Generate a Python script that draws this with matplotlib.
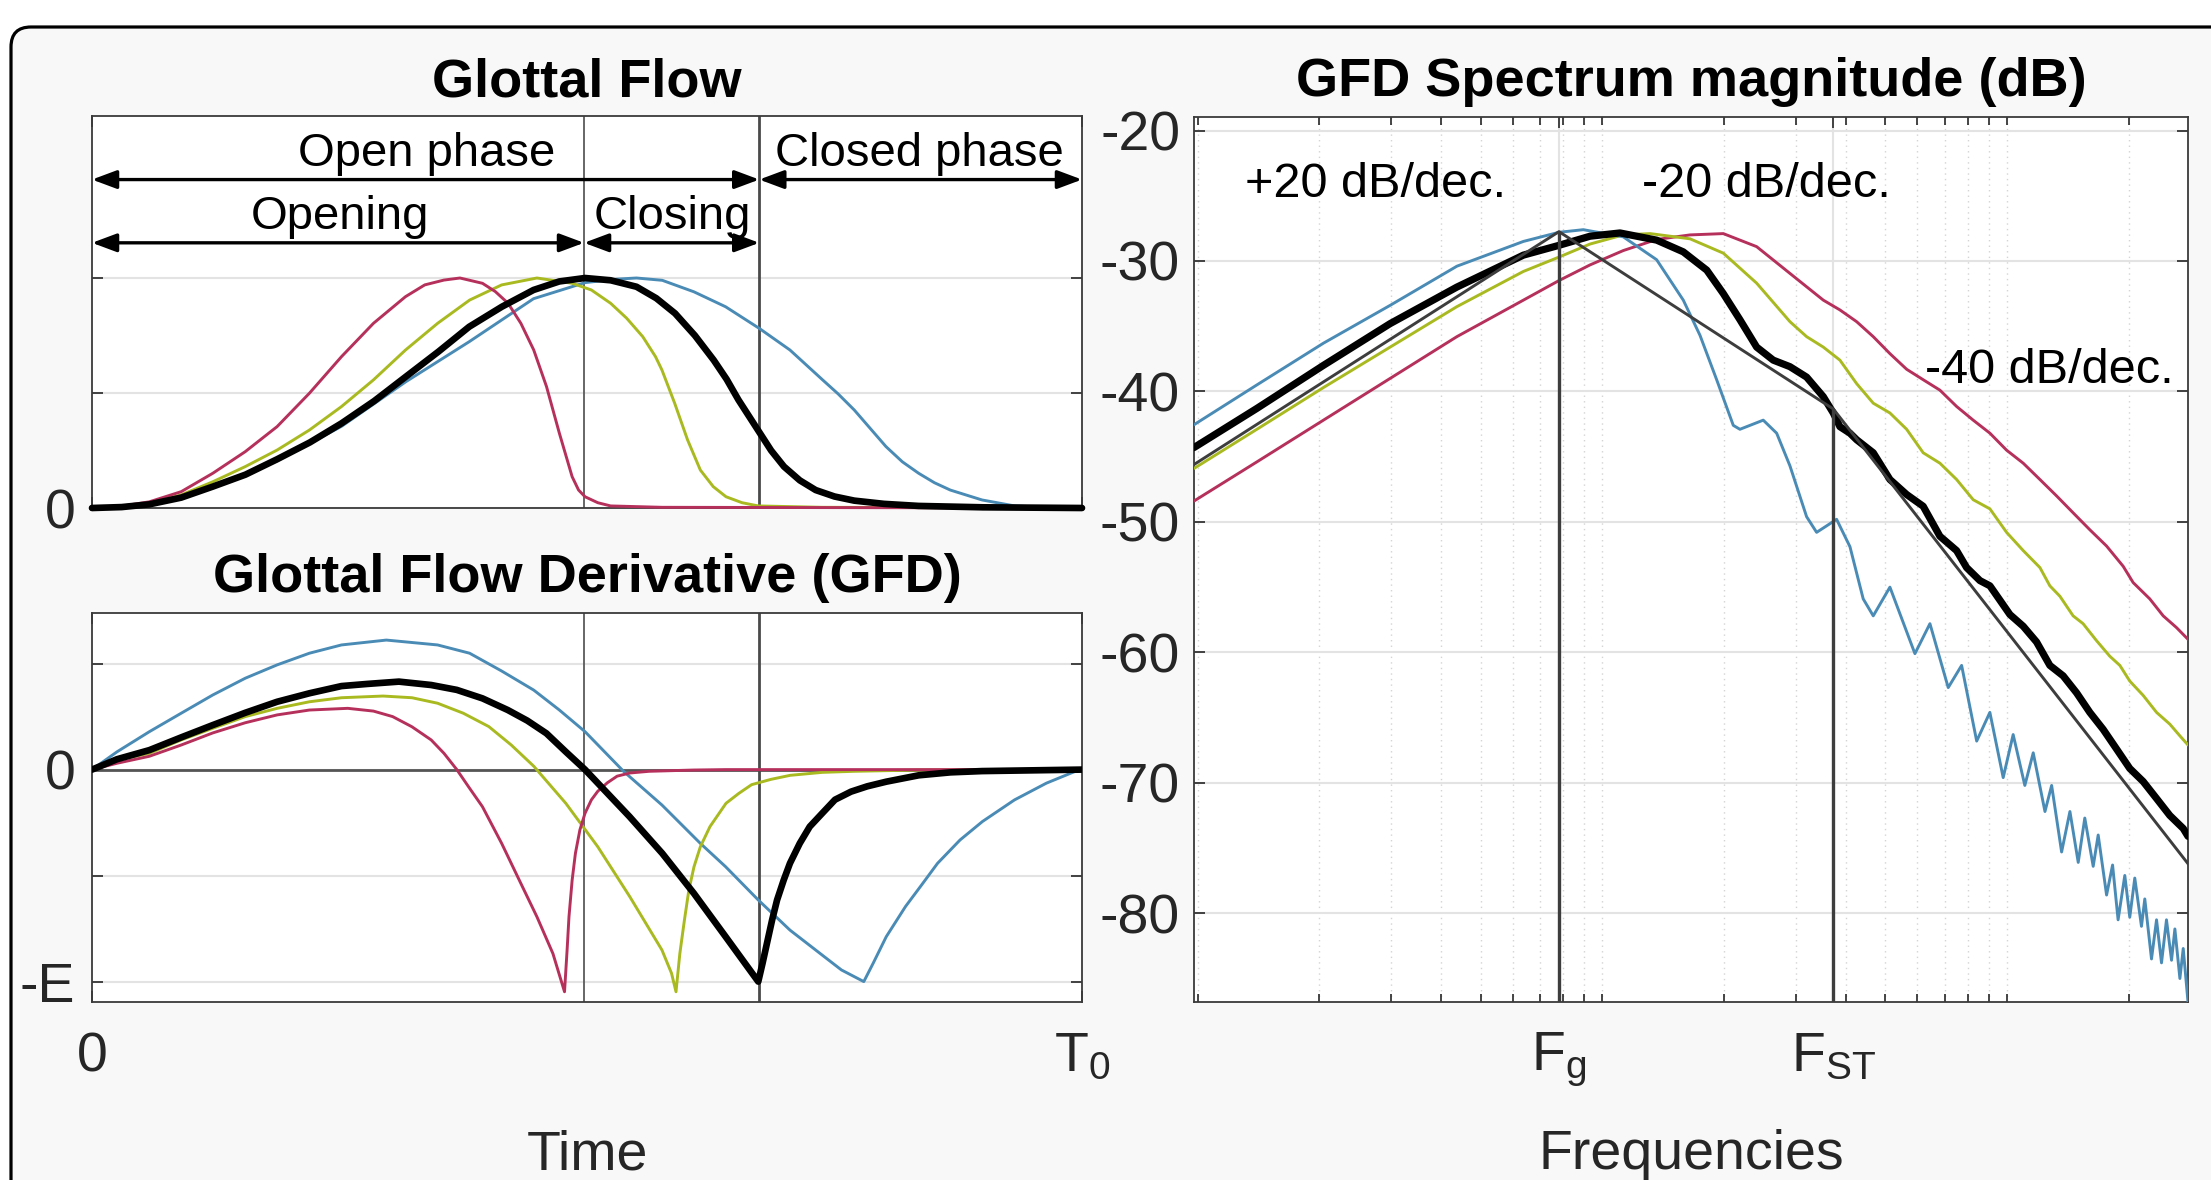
import matplotlib
matplotlib.use('Agg')
import matplotlib.pyplot as plt
import numpy as np
from matplotlib.patches import FancyBboxPatch
from matplotlib.transforms import IdentityTransform
from matplotlib.ticker import FixedLocator, FixedFormatter, LogLocator, NullFormatter

plt.rcParams['font.family'] = ['Liberation Sans', 'DejaVu Sans']
plt.rcParams['mathtext.fontset'] = 'custom'
plt.rcParams['mathtext.rm'] = 'Liberation Sans'
plt.rcParams['mathtext.it'] = 'Liberation Sans:italic'
plt.rcParams['mathtext.default'] = 'regular'

# ---------------- data ----------------
tp = 0.497   # instant of maximum flow (black)
te = 0.674   # glottal closure instant (black)

# Glottal flow (normalised), time in units of T0
t_flow_black = [0, 0.03, 0.058, 0.09, 0.122, 0.155, 0.187, 0.22, 0.252, 0.285, 0.317, 0.35, 0.381, 0.414,
                0.446, 0.472, 0.498, 0.524, 0.550, 0.570, 0.589, 0.609, 0.628, 0.641, 0.653, 0.674, 0.686,
                0.699, 0.715, 0.731, 0.750, 0.770, 0.800, 0.835, 0.900, 1.0]
flow_black = [0, 0.004, 0.016, 0.045, 0.093, 0.145, 0.212, 0.285, 0.368, 0.465, 0.571, 0.680, 0.788, 0.875,
              0.948, 0.985, 1.0, 0.990, 0.962, 0.912, 0.846, 0.750, 0.643, 0.560, 0.470, 0.330, 0.250,
              0.180, 0.120, 0.078, 0.050, 0.032, 0.018, 0.009, 0.003, 0.0]
t_flow_blue = [0, 0.058, 0.122, 0.187, 0.252, 0.317, 0.381, 0.446, 0.498, 0.530, 0.550, 0.576, 0.608, 0.640,
               0.674, 0.705, 0.738, 0.7537, 0.770, 0.7861, 0.802, 0.8185, 0.835, 0.8509, 0.867, 0.899,
               0.932, 0.970, 1.0]
flow_blue = [0, 0.014, 0.088, 0.205, 0.355, 0.549, 0.723, 0.910, 0.980, 0.995, 1.0, 0.990, 0.940, 0.875,
             0.781, 0.687, 0.557, 0.496, 0.426, 0.346, 0.267, 0.201, 0.151, 0.110, 0.078, 0.035,
             0.009, 0.002, 0.0]
t_flow_olive = [0, 0.0253, 0.058, 0.0901, 0.122, 0.1548, 0.187, 0.2196, 0.252, 0.2843, 0.3167, 0.3491, 0.3814,
                0.4138, 0.4494, 0.485, 0.5044, 0.5239, 0.5401, 0.5563, 0.5692, 0.5757, 0.5886, 0.6016,
                0.6145, 0.6275, 0.6404, 0.6566, 0.673, 0.7376, 1.0]
flow_olive = [0, 0.005, 0.020, 0.057, 0.114, 0.180, 0.252, 0.339, 0.441, 0.557, 0.687, 0.803, 0.904,
              0.970, 1.0, 0.977, 0.948, 0.890, 0.825, 0.745, 0.658, 0.600, 0.455, 0.296,
              0.165, 0.093, 0.049, 0.023, 0.009, 0.003, 0.0]
t_flow_red = [0, 0.0253, 0.058, 0.0901, 0.122, 0.1548, 0.187, 0.2196, 0.252, 0.2843, 0.3167, 0.3361, 0.3555,
              0.3717, 0.3944, 0.4074, 0.4203, 0.4332, 0.4462, 0.4591, 0.4721, 0.485, 0.4915, 0.498,
              0.5109, 0.5239, 0.5757, 1.0]
flow_red = [0, 0.005, 0.027, 0.071, 0.151, 0.245, 0.354, 0.499, 0.658, 0.803, 0.919, 0.970, 0.991,
            1.0, 0.977, 0.941, 0.890, 0.803, 0.687, 0.528, 0.325, 0.136, 0.078, 0.049,
            0.023, 0.009, 0.003, 0.0]

# Glottal flow derivative (normalised to E)
t_gfd_black = [0, 0.0253, 0.058, 0.0901, 0.122, 0.1548, 0.187, 0.2196, 0.252, 0.2778, 0.310, 0.3426, 0.3685,
               0.3944, 0.420, 0.4397, 0.459, 0.4786, 0.498, 0.543, 0.576, 0.608, 0.640, 0.673, 0.6773,
               0.6825, 0.687, 0.692, 0.6987, 0.705, 0.7149, 0.725, 0.7376, 0.7505, 0.7667, 0.783, 0.8023,
               0.835, 0.8671, 0.899, 1.0]
gfd_black = [0, 0.049, 0.092, 0.152, 0.210, 0.268, 0.320, 0.360, 0.394, 0.404, 0.415, 0.399, 0.376,
             0.336, 0.281, 0.231, 0.171, 0.084, 0.0, -0.222, -0.395, -0.584, -0.788, -1.0, -0.914,
             -0.804, -0.709, -0.615, -0.521, -0.442, -0.348, -0.269, -0.206, -0.142, -0.104, -0.079, -0.057,
             -0.027, -0.013, -0.007, 0.0]
t_gfd_blue = [0, 0.0253, 0.058, 0.0901, 0.122, 0.1548, 0.187, 0.2196, 0.252, 0.2973, 0.3491, 0.3814, 0.4138,
              0.4462, 0.4721, 0.498, 0.5369, 0.5757, 0.6145, 0.640, 0.673, 0.705, 0.7376, 0.757, 0.7796,
              0.789, 0.8023, 0.8217, 0.838, 0.8541, 0.8768, 0.8994, 0.9318, 0.964, 0.9933, 1.0]
gfd_blue = [0, 0.084, 0.179, 0.266, 0.352, 0.431, 0.494, 0.549, 0.588, 0.611, 0.588, 0.549, 0.465,
            0.375, 0.281, 0.179, -0.008, -0.167, -0.348, -0.458, -0.615, -0.757, -0.875, -0.945, -1.0,
            -0.914, -0.788, -0.646, -0.544, -0.442, -0.332, -0.245, -0.143, -0.064, -0.008, 0.0]
t_gfd_olive = [0, 0.0253, 0.058, 0.0901, 0.122, 0.1548, 0.187, 0.2196, 0.252, 0.294, 0.3232, 0.3491, 0.375,
               0.4008, 0.4235, 0.4462, 0.4786, 0.5109, 0.5433, 0.5757, 0.5854, 0.5899, 0.5938, 0.5984,
               0.6029, 0.6081, 0.6145, 0.6242, 0.6404, 0.6534, 0.6663, 0.6858, 0.7052, 0.7376, 0.7699,
               0.8347, 1.0]
gfd_olive = [0, 0.045, 0.077, 0.140, 0.195, 0.250, 0.289, 0.320, 0.339, 0.347, 0.339, 0.313, 0.266,
             0.203, 0.116, 0.016, -0.159, -0.364, -0.600, -0.851, -0.961, -1.048, -0.867, -0.710,
             -0.568, -0.458, -0.364, -0.269, -0.159, -0.112, -0.071, -0.046, -0.027, -0.013, -0.008,
             -0.002, 0.0]
t_gfd_red = [0, 0.0253, 0.058, 0.0901, 0.122, 0.1548, 0.187, 0.2196, 0.2584, 0.2843, 0.3037, 0.3232, 0.3426,
             0.3555, 0.3685, 0.3814, 0.3944, 0.4138, 0.4332, 0.4494, 0.4656, 0.4773, 0.4799, 0.4818, 0.485,
             0.4883, 0.4928, 0.498, 0.5044, 0.5109, 0.5206, 0.5304, 0.5433, 0.5627, 0.6081, 0.6404, 1.0]
gfd_red = [0, 0.030, 0.063, 0.116, 0.173, 0.221, 0.258, 0.281, 0.289, 0.276, 0.250, 0.202, 0.140,
           0.077, 0.0, -0.088, -0.175, -0.348, -0.537, -0.694, -0.868, -1.048, -0.851, -0.694, -0.521,
           -0.395, -0.285, -0.206, -0.143, -0.102, -0.062, -0.031, -0.016, -0.008, -0.002, 0.0, 0.0]

# GFD spectrum (frequency relative to F0, magnitude in dB)
f_spec_blue = [0.98, 1.401, 2.046, 2.99, 4.37, 6.38, 7.81, 8.97, 11.26, 13.61, 15.84, 17.42, 19.15, 21.05,
               21.86, 24.96, 26.94, 29.05, 31.94, 33.81, 35.80, 37.88, 40.87, 44.07, 46.66, 51.30, 59.14,
               64.41, 71.47, 77.13, 84.03, 90.57, 97.7, 103.4, 110.5, 115.9, 123.9, 128.7, 136.2, 142.8,
               149.7, 155.4, 163.0, 167.7, 175.9, 182.0, 187.8, 195.1, 200.7, 206.5, 214.5, 218.6, 227.1,
               233.7, 240.4, 247.3, 254.5, 259.4, 266.9, 272.0, 279.5]
db_spec_blue = [-42.55, -39.5, -36.3, -33.4, -30.4, -28.5, -27.8, -27.6, -28.15, -29.9, -33.0, -35.7, -39.1,
                -42.6, -42.9, -42.2, -43.2, -45.7, -49.6, -50.8, -50.3, -49.8, -51.9, -55.9, -57.2, -55.0,
                -60.1, -57.8, -62.7, -61.0, -66.8, -64.6, -69.6, -66.3, -70.2, -67.7, -72.2, -70.2, -75.3,
                -72.2, -76.1, -72.7, -76.4, -74.0, -78.6, -76.3, -80.5, -77.1, -80.3, -77.3, -81.0, -78.9,
                -83.5, -80.5, -83.8, -80.5, -83.6, -81.2, -85.0, -82.7, -86.8]
f_spec_black = [0.98, 1.401, 2.046, 2.99, 4.37, 6.38, 7.81, 9.32, 11.05, 13.61, 15.84, 17.42, 18.10, 19.89,
                21.86, 24.04, 26.42, 29.05, 31.94, 35.12, 37.17, 38.60, 40.87, 42.45, 46.66, 51.30, 56.42,
                61.98, 68.17, 74.96, 79.35, 85.6, 90.6, 95.9, 101.5, 109.5, 118.1, 127.4, 137.4, 148.3,
                159.9, 172.5, 186.1, 200.7, 216.6, 233.7, 252.0, 272.0, 279.5]
db_spec_black = [-44.3, -41.3, -38.0, -34.8, -32.0, -29.55, -28.8, -28.1, -27.85, -28.4, -29.3, -30.3, -30.7,
                 -32.5, -34.5, -36.6, -37.6, -38.1, -38.9, -40.4, -41.65, -42.7, -43.2, -43.7, -44.7, -46.75,
                 -47.9, -48.8, -51.1, -52.2, -53.5, -54.5, -54.9, -56.0, -57.1, -58.0, -59.2, -61.0, -61.8,
                 -63.1, -64.6, -65.9, -67.4, -68.9, -69.9, -71.2, -72.5, -73.5, -74.1]
f_spec_olive = [0.98, 1.401, 2.046, 2.99, 4.37, 6.38, 7.81, 9.32, 11.26, 13.11, 16.46, 19.89, 24.04, 29.05,
                31.94, 35.12, 38.60, 42.45, 46.66, 51.30, 56.42, 61.98, 68.17, 74.96, 82.38, 90.6, 99.6,
                109.5, 120.4, 127.4, 134.9, 145.4, 153.9, 166.1, 179.2, 189.7, 200.7, 216.6, 233.7, 252.0,
                266.9, 279.5]
db_spec_olive = [-45.9, -42.9, -39.7, -36.6, -33.5, -30.8, -29.7, -28.7, -28.0, -27.9, -28.3, -29.4, -31.7,
                 -34.65, -35.8, -36.6, -37.6, -39.4, -40.9, -41.65, -42.9, -44.7, -45.5, -46.75, -48.3, -49.0,
                 -50.8, -52.2, -53.5, -54.9, -55.7, -57.2, -57.8, -59.1, -60.3, -61.0, -62.2, -63.3, -64.6,
                 -65.5, -66.4, -67.1]
f_spec_red = [0.98, 1.401, 2.046, 2.99, 4.37, 6.38, 7.81, 9.32, 11.26, 13.61, 16.46, 19.89, 24.04, 29.05,
              35.12, 38.60, 42.45, 46.66, 51.30, 56.42, 61.98, 68.17, 74.96, 82.38, 90.6, 99.6, 109.5, 120.4,
              132.3, 145.4, 159.9, 175.9, 193.3, 204.6, 224.9, 242.7, 261.8, 279.5]
db_spec_red = [-48.4, -45.4, -42.2, -39.0, -35.8, -33.0, -31.5, -30.3, -29.2, -28.35, -28.0, -27.9, -28.9,
               -30.95, -33.0, -33.75, -34.65, -35.8, -37.1, -38.3, -39.1, -39.9, -41.15, -42.2, -43.2, -44.5,
               -45.5, -46.75, -48.0, -49.3, -50.6, -51.85, -53.4, -54.65, -55.9, -57.2, -58.1, -59.0]

# Asymptotic (stylised) spectrum: +20 / -20 / -40 dB per decade
asym_f = [0.98, 7.81, 37.2, 279.5]
asym_db = [-45.6, -27.75, -41.35, -76.2]
fg, fst = asym_f[1], asym_f[2]

y_ticks_spec = [-80, -70, -60, -50, -40, -30, -20]

# ---------------- style ----------------
C_BLUE = '#4a8bb6'
C_OLIVE = '#a9b920'
C_RED = '#b6305c'
C_ASYM = '#3d3d3d'
C_AXIS = '#3a3a3a'
C_TICK = '#262626'
C_GRID = '#e3e3e3'

fig = plt.figure(figsize=(22.11, 11.8), dpi=100)
fig.patch.set_facecolor('white')

frame = FancyBboxPatch((11, -80), 2400, 1180 - 27 + 80, boxstyle='round,pad=0,rounding_size=20',
                       transform=IdentityTransform(), facecolor='#f8f8f8', edgecolor='black',
                       linewidth=2.3, zorder=-10)
fig.add_artist(frame)

ax1 = fig.add_axes([0.04161, 0.56949, 0.44776, 0.33186])
ax2 = fig.add_axes([0.04161, 0.15076, 0.44776, 0.32941])
ax3 = fig.add_axes([0.54003, 0.15085, 0.44957, 0.74958])

for ax in (ax1, ax2, ax3):
    ax.set_facecolor('white')
    for s in ax.spines.values():
        s.set_color(C_AXIS)
        s.set_linewidth(1.3)
    ax.tick_params(which='both', direction='in', colors=C_TICK, labelsize=40,
                   left=True, right=True, top=True, bottom=True, length=8, width=1.2)
    ax.set_axisbelow(True)

line_kw = dict(solid_joinstyle='round', solid_capstyle='round')

# ---- Glottal flow ----
ax1.set_xlim(0, 1)
ax1.set_ylim(0, 1.7026)
ax1.yaxis.set_major_locator(FixedLocator([0, 0.5, 1.0]))
ax1.yaxis.set_major_formatter(FixedFormatter(['0', '', '']))
ax1.xaxis.set_major_locator(FixedLocator([0, 1]))
ax1.xaxis.set_major_formatter(FixedFormatter(['', '']))
ax1.grid(axis='y', color=C_GRID, lw=1.5)
ax1.tick_params(axis='y', pad=12)
ax1.axvline(tp, color='#5a5a5a', lw=1.3, zorder=1)
ax1.axvline(te, color='#4a4a4a', lw=2.0, zorder=1)
ax1.plot(t_flow_blue, flow_blue, color=C_BLUE, lw=2.1, zorder=3, clip_on=False, **line_kw)
ax1.plot(t_flow_olive, flow_olive, color=C_OLIVE, lw=2.1, zorder=3, clip_on=False, **line_kw)
ax1.plot(t_flow_red, flow_red, color=C_RED, lw=2.1, zorder=3, clip_on=False, **line_kw)
ax1.plot(t_flow_black, flow_black, color='black', lw=4.8, zorder=4, clip_on=False, **line_kw)
ax1.set_title('Glottal Flow', fontsize=39, fontweight='bold', pad=14.5)

arrow_kw = dict(arrowstyle='<|-|>,head_length=0.75,head_width=0.28', color='black', lw=2.4,
                shrinkA=0, shrinkB=0, mutation_scale=20)
ax1.annotate('', xy=(0, 1.428), xytext=(te, 1.428), arrowprops=arrow_kw)
ax1.annotate('', xy=(te, 1.428), xytext=(1, 1.428), arrowprops=arrow_kw)
ax1.annotate('', xy=(0, 1.153), xytext=(tp, 1.153), arrowprops=arrow_kw)
ax1.annotate('', xy=(tp, 1.153), xytext=(te, 1.153), arrowprops=arrow_kw)
ax1.text(0.338, 1.487, 'Open phase', ha='center', va='baseline', fontsize=34)
ax1.text(0.836, 1.487, 'Closed phase', ha='center', va='baseline', fontsize=34)
ax1.text(0.250, 1.215, 'Opening', ha='center', va='baseline', fontsize=34)
ax1.text(0.5865, 1.215, 'Closing', ha='center', va='baseline', fontsize=34)

# ---- Glottal flow derivative ----
ax2.set_xlim(0, 1)
ax2.set_ylim(-1.0967, 0.7368)
ax2.yaxis.set_major_locator(FixedLocator([-1.0, -0.5, 0, 0.5]))
ax2.yaxis.set_major_formatter(FixedFormatter(['-E', '', '0', '']))
ax2.xaxis.set_major_locator(FixedLocator([0, 1]))
ax2.xaxis.set_major_formatter(FixedFormatter(['0', 'T$_0$']))
ax2.grid(axis='y', color=C_GRID, lw=1.5)
ax2.tick_params(axis='y', pad=12)
ax2.tick_params(axis='x', pad=21)
ax2.axhline(0, color='#555555', lw=2.0, zorder=1)
ax2.axvline(tp, color='#5a5a5a', lw=1.3, zorder=1)
ax2.axvline(te, color='#4a4a4a', lw=2.0, zorder=1)
ax2.plot(t_gfd_blue, gfd_blue, color=C_BLUE, lw=2.1, zorder=3, **line_kw)
ax2.plot(t_gfd_olive, gfd_olive, color=C_OLIVE, lw=2.1, zorder=3, **line_kw)
ax2.plot(t_gfd_red, gfd_red, color=C_RED, lw=2.1, zorder=3, **line_kw)
ax2.plot(t_gfd_black, gfd_black, color='black', lw=4.8, zorder=4, **line_kw)
ax2.set_title('Glottal Flow Derivative (GFD)', fontsize=39, fontweight='bold', pad=15.7)
ax2.set_xlabel('Time', fontsize=40, color=C_TICK)
ax2.xaxis.set_label_coords(0.5, -0.3267)

# ---- Spectrum ----
ax3.set_xscale('log')
ax3.set_xlim(0.98, 279.5)
ax3.set_ylim(-86.8, -19.0)
ax3.yaxis.set_major_locator(FixedLocator(y_ticks_spec))
ax3.yaxis.set_major_formatter(FixedFormatter([str(v) for v in y_ticks_spec]))
ax3.xaxis.set_major_locator(FixedLocator([fg, fst]))
ax3.xaxis.set_major_formatter(FixedFormatter(['F$_\\mathrm{g}$', 'F$_\\mathrm{ST}$']))
ax3.xaxis.set_minor_locator(LogLocator(base=10, subs=np.arange(1, 10), numticks=50))
ax3.xaxis.set_minor_formatter(NullFormatter())
ax3.tick_params(axis='y', pad=10)
ax3.tick_params(axis='x', pad=21)
ax3.tick_params(axis='x', which='minor', length=6)
ax3.grid(axis='y', which='major', color=C_GRID, lw=1.5)
ax3.grid(axis='x', which='major', color=C_GRID, lw=1.5)
ax3.grid(axis='x', which='minor', color='#d4d4d4', lw=1.0, ls=(0, (1, 3)))
ax3.plot(f_spec_red, db_spec_red, color=C_RED, lw=2.1, zorder=3, **line_kw)
ax3.plot(f_spec_olive, db_spec_olive, color=C_OLIVE, lw=2.1, zorder=3, **line_kw)
ax3.plot(f_spec_blue, db_spec_blue, color=C_BLUE, lw=2.1, zorder=3, **line_kw)
ax3.plot(f_spec_black, db_spec_black, color='black', lw=5.2, zorder=4, **line_kw)
ax3.plot(asym_f, asym_db, color=C_ASYM, lw=2.1, zorder=5)
ybot = ax3.get_ylim()[0]
ax3.vlines([fg, fst], ybot, [asym_db[1], asym_db[2]], color=C_ASYM, lw=2.4, zorder=5)
ax3.set_title('GFD Spectrum magnitude (dB)', fontsize=39, fontweight='bold', pad=15.7)
ax3.set_xlabel('Frequencies', fontsize=40, color=C_TICK)
ax3.xaxis.set_label_coords(0.5, -0.1436)
ax3.text(1.313, -25.1, '+20 dB/dec.', ha='left', va='baseline', fontsize=35)
ax3.text(12.53, -25.1, '-20 dB/dec.', ha='left', va='baseline', fontsize=35)
ax3.text(62.6, -39.36, '-40 dB/dec.', ha='left', va='baseline', fontsize=35)

fig.savefig('out.png', dpi=100, facecolor=fig.get_facecolor())
